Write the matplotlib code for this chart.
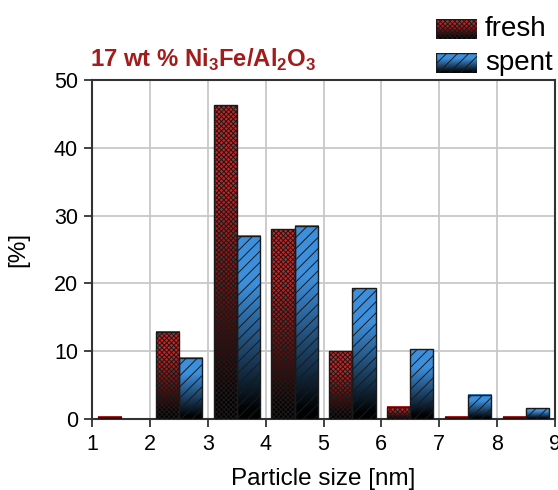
import numpy as np
import matplotlib
matplotlib.use("Agg")
import matplotlib.pyplot as plt
from matplotlib.patches import Rectangle
from matplotlib.colors import to_rgb

plt.rcParams['font.family'] = ['Liberation Sans', 'DejaVu Sans']
plt.rcParams['mathtext.fontset'] = 'custom'
plt.rcParams['mathtext.rm'] = 'Liberation Sans'
plt.rcParams['mathtext.bf'] = 'Liberation Sans:bold'
plt.rcParams['hatch.linewidth'] = 0.7

# Data
bins = [1, 2, 3, 4, 5, 6, 7, 8]
fresh = [0.3, 12.9, 46.3, 28.0, 10.0, 1.8, 0.3, 0.3]
spent = [0.0, 9.0, 27.0, 28.5, 19.3, 10.3, 3.6, 1.6]
series_names = ["fresh", "spent"]
title = "17 wt % Ni$_\\mathbf{3}$Fe/Al$_\\mathbf{2}$O$_\\mathbf{3}$"

fresh_col = '#d02222'
spent_col = '#3d8fdc'
edge = '#1a1a1a'

fig = plt.figure(figsize=(5.58, 4.90), dpi=100)
ax = fig.add_axes([92/558, 71/490, 463/558, 339/490])


def gradient_img(color, n=100):
    c = np.array(to_rgb(color))
    t = np.linspace(0, 1, n)  # bottom -> top
    f = np.clip(0.02 + (t - 0.05) / 0.7, 0.02, 1)
    img = (f[:, None] * c[None, :])[:, None, :]
    return img


def grad_bar(axis, x0, w, h, color, hatch, z=3):
    if h <= 0:
        return
    img = gradient_img(color)
    axis.imshow(img, extent=[x0, x0 + w, 0, h], origin='lower',
                aspect='auto', zorder=z, interpolation='bilinear')
    axis.add_patch(Rectangle((x0, 0), w, h, facecolor='none', edgecolor=edge,
                             hatch=hatch, linewidth=1.0, zorder=z + 0.5))


w = 0.4
for b, fv, sv in zip(bins, fresh, spent):
    grad_bar(ax, b + 0.1, w, fv, fresh_col, 'xxxxxxx')
    grad_bar(ax, b + 0.5, w, sv, spent_col, '///')

ax.set_xlim(1, 9)
ax.set_ylim(0, 50)
ax.set_xticks(range(1, 10))
ax.set_yticks(range(0, 51, 10))
ax.grid(True, color='#c8c8c8', linewidth=1.3, zorder=0)
ax.set_axisbelow(True)
for s in ax.spines.values():
    s.set_color('#333333')
    s.set_linewidth(1.5)
ax.tick_params(direction='out', length=6, width=1.3, color='#333333',
               labelsize=15.5)
ax.tick_params(axis='x', pad=5)
ax.tick_params(axis='y', pad=4)
ax.set_xlabel("Particle size [nm]", fontsize=17.5, labelpad=9)
ax.set_ylabel("[%]", fontsize=17.5, labelpad=18)

fig.text(90/558, 1 - 67/490, title, fontsize=17.2, fontweight='bold',
         color='#a31c1c', ha='left', va='baseline')

# manual legend
for i, (name, col, hatch) in enumerate(zip(series_names, [fresh_col, spent_col],
                                           ['xxxxxxx', '///'])):
    top = 19 + i * 34
    lax = fig.add_axes([436/558, 1 - (top + 20)/490, 41/558, 20/490])
    lax.set_xlim(0, 1)
    lax.set_ylim(0, 1)
    lax.axis('off')
    grad_bar(lax, 0, 1, 1, col, hatch)
    lax.set_xlim(0, 1)
    lax.set_ylim(0, 1)
    fig.text(485/558, 1 - (top + 10)/490, name, fontsize=20, ha='left',
             va='center')

fig.savefig("out.png", dpi=100)
